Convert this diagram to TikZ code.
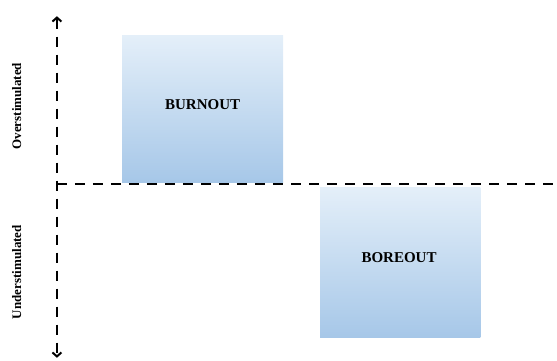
\documentclass[tikz,border=0pt]{standalone}
\usepackage{fontspec}
\setmainfont{Liberation Serif}
\usetikzlibrary{arrows.meta}

\definecolor{boxtop}{HTML}{E4EFF9}
\definecolor{boxbottom}{HTML}{A6C7E8}

\tikzset{
	axisline/.style={black, line width=2.2pt, dash pattern=on 10pt off 8pt},
	axistip/.tip={Straight Barb[length=4pt,width=9pt,line width=2pt]},
	panel/.style={inner sep=0pt, top color=boxtop, bottom color=boxbottom},
	boxtext/.style={font=\fontsize{15}{17}\selectfont\bfseries},
	sidetext/.style={font=\fontsize{13}{15}\selectfont\bfseries, rotate=90}
}

\begin{document}
\begin{tikzpicture}
	\useasboundingbox (-2.0,-6.19) rectangle (17.57,6.47);
	% boxes
	\node[panel, anchor=south west, minimum width=5.66cm, minimum height=5.17cm] (burnout) at (2.28,0.05) {};
	\node[panel, anchor=north west, minimum width=5.63cm, minimum height=5.28cm] (boreout) at (9.24,-0.1) {};
	\node[boxtext] (burnoutlabel) at (5.12,2.81) {BURNOUT};
	\node[boxtext] (boreoutlabel) at (12.02,-2.57) {BOREOUT};
	% axes
	\coordinate (origin) at (0,0);
	\coordinate (top) at (0,5.9);
	\coordinate (bottom) at (0,-6.1);
	\coordinate (right) at (17.57,0);
	\draw[axisline, axistip-axistip] (top) -- (bottom);
	\draw[axisline] (origin) -- (right);
	% side labels
	\node[sidetext] (over) at (-1.41,2.74) {Overstimulated};
	\node[sidetext] (under) at (-1.41,-3.09) {Understimulated};
\end{tikzpicture}
\end{document}
